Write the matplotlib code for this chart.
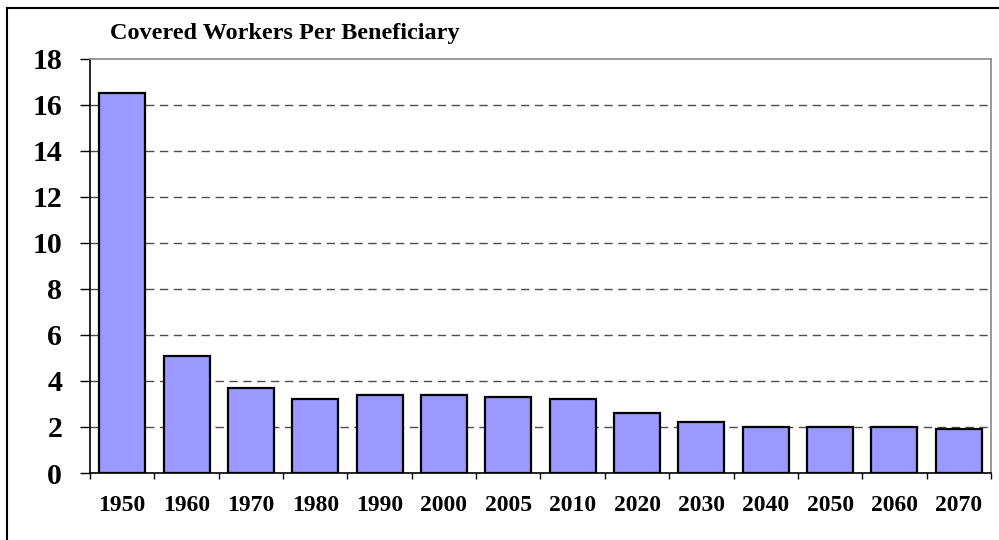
import numpy as np
import matplotlib.pyplot as plt
from matplotlib.lines import Line2D

years = ['1950', '1960', '1970', '1980', '1990', '2000', '2005',
         '2010', '2020', '2030', '2040', '2050', '2060', '2070']
workers = [16.5, 5.1, 3.7, 3.2, 3.4, 3.4, 3.3, 3.2, 2.6, 2.2, 2.0, 2.0, 2.0, 1.9]
yticks = [0, 2, 4, 6, 8, 10, 12, 14, 16, 18]

plt.rcParams['font.family'] = ['Liberation Serif', 'DejaVu Serif']

fig = plt.figure(figsize=(9.99, 5.4), dpi=100)
ax = fig.add_axes([90 / 999, 1 - 473 / 540, 901 / 999, (473 - 58.5) / 540])

x = np.arange(len(years))
ax.bar(x, workers, width=0.715, color='#9999FF', edgecolor='black',
       linewidth=1.6, zorder=3)

ax.set_xlim(-0.5, len(years) - 0.5)
ax.set_ylim(0, 18)
ax.set_yticks(yticks)
ax.set_yticklabels([str(v) for v in yticks], fontsize=21.5, fontweight='bold')
ax.tick_params(axis='y', length=7, width=1, pad=13, direction='out')

ax.set_xticks(x)
ax.set_xticklabels(years, fontsize=17, fontweight='bold')
ax.tick_params(axis='x', which='major', length=0, pad=15.5)
ax.set_xticks(np.arange(-0.5, len(years)), minor=True)
ax.tick_params(axis='x', which='minor', length=4.5, width=1, direction='out')

for v in yticks[1:-1]:
    ax.axhline(v, color='0.3', linewidth=1, linestyle=(0, (6, 4)), zorder=1)

ax.spines['left'].set_color('black')
ax.spines['bottom'].set_color('black')
ax.spines['top'].set_color('#888888')
ax.spines['right'].set_color('#888888')
for s in ax.spines.values():
    s.set_linewidth(1.2)

fig.text(110 / 999, 1 - 34 / 540, 'Covered Workers Per Beneficiary',
         fontsize=17.5, fontweight='bold', va='center', ha='left')

# outer chart border (top and left edges visible)
fig.add_artist(Line2D([7 / 999, 1.0], [1 - 8 / 540, 1 - 8 / 540],
                      transform=fig.transFigure, color='black', linewidth=1.5))
fig.add_artist(Line2D([7 / 999, 7 / 999], [0.0, 1 - 8 / 540],
                      transform=fig.transFigure, color='black', linewidth=1.5))

fig.savefig('out.png', dpi=100)
